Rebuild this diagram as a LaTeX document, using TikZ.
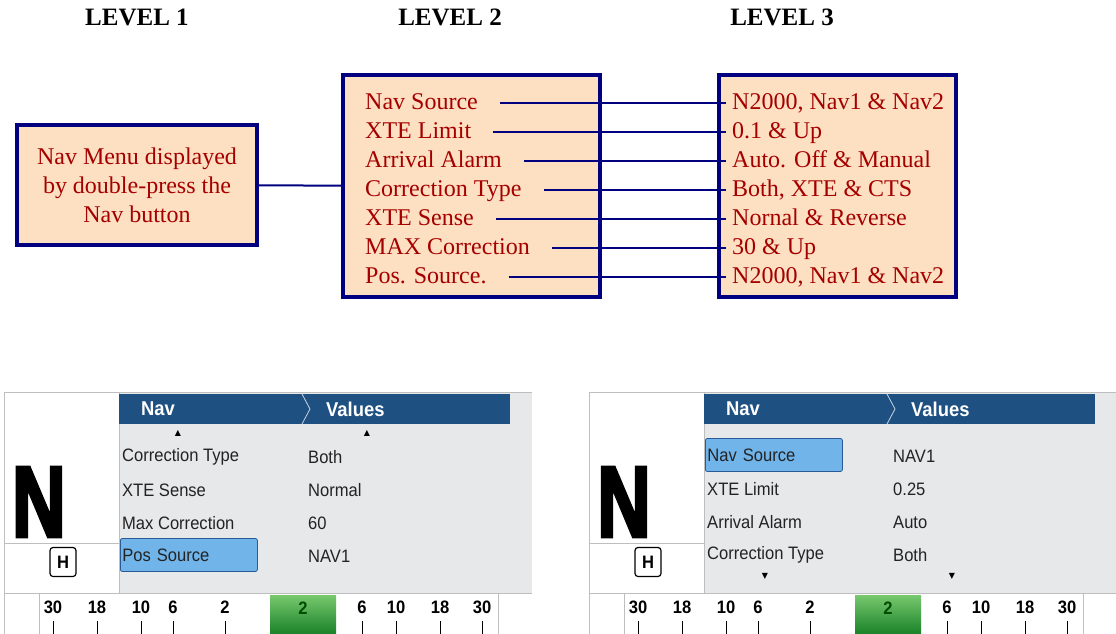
\documentclass[tikz,border=0pt]{standalone}
\usepackage{fontspec}
\setmainfont{Liberation Serif}
\newfontfamily\uifont[FakeStretch=0.92]{Liberation Sans}
\newfontfamily\bigfont[UprightFont={* Bold}, FakeBold=4]{Liberation Sans}
\newfontfamily\symfont{DejaVu Sans}
\usepackage{xcolor}

\definecolor{peach}{RGB}{253,223,193}
\definecolor{navyline}{RGB}{0,0,128}
\definecolor{menured}{RGB}{165,0,0}
\definecolor{hdrblue}{RGB}{31,80,130}
\definecolor{scrgray}{RGB}{231,232,234}
\definecolor{edgegray}{RGB}{190,190,190}
\definecolor{selblue}{RGB}{112,180,234}
\definecolor{seledge}{RGB}{40,90,150}
\definecolor{uitext}{RGB}{35,35,35}
\definecolor{gaugetop}{RGB}{120,200,110}
\definecolor{gaugebot}{RGB}{25,130,40}

\begin{document}
\begin{tikzpicture}[x=1pt, y=-1pt,
    font=\fontsize{24}{29}\selectfont,
    level/.style={font=\bfseries\fontsize{25}{29}\selectfont},
    menubox/.style={draw=navyline, line width=4pt, fill=peach, text=menured},
    item/.style={anchor=west, text=menured, inner sep=0pt, text height=16pt, text depth=4pt},
    link/.style={draw=navyline, line width=2pt},
    uirow/.style={anchor=west, inner sep=0pt, text=uitext, font=\uifont\fontsize{18}{20}\selectfont},
    hdr/.style={text=white, inner sep=0pt, font=\uifont\bfseries\fontsize{20}{22}\selectfont},
    selbox/.style={draw=seledge, fill=selblue, rounded corners=2pt, line width=0.8pt, anchor=west,
        inner xsep=2pt, text width=133pt, minimum height=33pt, text=uitext,
        font=\uifont\fontsize{18}{20}\selectfont},
    barnum/.style={inner sep=0pt, text=black, font=\uifont\bfseries\fontsize{18}{20}\selectfont},
    arrowmark/.style={inner sep=0pt, font=\symfont\fontsize{8}{8}\selectfont}]
    \useasboundingbox (0,0) rectangle (1116,634);

    % Level headings
    \node[level] (hone) at (137,17) {LEVEL 1};
    \node[level] (htwo) at (450,17) {LEVEL 2};
    \node[level] (hthree) at (782,17) {LEVEL 3};

    % Level 1
    \node[menubox, minimum width=240pt, minimum height=120pt, align=center] (lvone) at (137,185)
        {Nav Menu displayed\\by double-press the\\Nav button};

    % Level 2
    \node[menubox, minimum width=257pt, minimum height=222pt] (lvtwo) at (471.5,186) {};
    \node[item] (navsrc) at (365,103) {Nav Source};
    \node[item] (xtelim) at (365,132) {XTE Limit};
    \node[item] (arralarm) at (365,161) {Arrival Alarm};
    \node[item] (corrtype) at (365,190) {Correction Type};
    \node[item] (xtesense) at (365,219) {XTE Sense};
    \node[item] (maxcorr) at (365,248) {MAX Correction};
    \node[item] (possrc) at (365,277) {Pos. Source.};

    % Level 3
    \node[menubox, minimum width=237pt, minimum height=222pt] (lvthree) at (837.5,186) {};
    \node[item] (navsrcv) at (732,103) {N2000, Nav1 \& Nav2};
    \node[item] (xtelimv) at (732,132) {0.1 \& Up};
    \node[item] (arralarmv) at (732,161) {Auto. Off \& Manual};
    \node[item] (corrtypev) at (732,190) {Both, XTE \& CTS};
    \node[item] (xtesensev) at (732,219) {Nornal \& Reverse};
    \node[item] (maxcorrv) at (732,248) {30 \& Up};
    \node[item] (possrcv) at (732,277) {N2000, Nav1 \& Nav2};

    % Links
    \draw[link] (lvone) -- (lvtwo);
    \draw[link] ([xshift=22pt]navsrc.east) -- ([xshift=-6pt]navsrcv.west);
    \draw[link] ([xshift=22pt]xtelim.east) -- ([xshift=-6pt]xtelimv.west);
    \draw[link] ([xshift=22pt]arralarm.east) -- ([xshift=-6pt]arralarmv.west);
    \draw[link] ([xshift=22pt]corrtype.east) -- ([xshift=-6pt]corrtypev.west);
    \draw[link] ([xshift=22pt]xtesense.east) -- ([xshift=-6pt]xtesensev.west);
    \draw[link] ([xshift=22pt]maxcorr.east) -- ([xshift=-6pt]maxcorrv.west);
    \draw[link] ([xshift=22pt]possrc.east) -- ([xshift=-6pt]possrcv.west);

    % Display screens (common parts)
    \foreach \ox in {0,585} {
        \fill[scrgray] (\ox+4,392) rectangle (\ox+532,634);
        \fill[white] (\ox+4,392) rectangle (\ox+119,593);
        \draw[edgegray, line width=0.8pt] (\ox+4,634) -- (\ox+4,392) -- (\ox+532,392);
        \draw[edgegray, line width=0.8pt] (\ox+4,543) -- (\ox+119,543);
        \draw[edgegray, line width=0.8pt] (\ox+119,392) -- (\ox+119,593);
        % header
        \fill[hdrblue] (\ox+119,394) rectangle (\ox+510,424);
        \draw[white!75!hdrblue, line width=0.8pt] (\ox+302,394) -- (\ox+310,409) -- (\ox+302,424);
        \node[hdr] (nav\ox) at (\ox+158,409) {Nav};
        \node[hdr, anchor=west] (val\ox) at (\ox+326,409) {Values};
        % heading letter
        \node[inner sep=0pt, font=\bigfont\fontsize{100}{100}\selectfont] (big\ox) at (\ox+39,502)
            {\scalebox{0.74}[1]{N}};
        \node[draw, rounded corners=3pt, line width=1.2pt, fill=white, minimum width=26pt, minimum height=29pt,
            inner sep=0pt, font=\uifont\bfseries\fontsize{18}{20}\selectfont] (hbox\ox) at (\ox+63,562) {H};
        % scale bar
        \fill[white] (\ox+4,593) rectangle (\ox+532,634);
        \draw[edgegray, line width=0.8pt] (\ox+4,593) -- (\ox+532,593);
        \draw[edgegray, line width=0.8pt] (\ox+39,593) -- (\ox+39,634);
        \draw[edgegray, line width=0.8pt] (\ox+498,593) -- (\ox+498,634);
        \draw[edgegray, line width=0.8pt] (\ox+4,593) -- (\ox+4,634);
        \shade[top color=gaugetop, bottom color=gaugebot] (\ox+270,595) rectangle (\ox+336,634);
        \node[barnum, text=green!30!black] (mid\ox) at (\ox+303,608) {2};
        \foreach \x/\t in {53/30, 97/18, 141/10, 173/6, 225/2, 362/6, 396/10, 440/18, 482/30} {
            \node[barnum] (bn\ox-\x) at (\ox+\x,607) {\t};
            \draw[line width=1pt] (\ox+\x,621) -- (\ox+\x,634);
        }
    }

    % Screen 1
    \node[arrowmark] (upa) at (178,433) {▲};
    \node[arrowmark] (upb) at (367,433) {▲};
    \node[uirow] (sa) at (122,457) {Correction Type};
    \node[uirow] (sb) at (122,490) {XTE Sense};
    \node[uirow] (sc) at (122,523) {Max Correction};
    \node[selbox] (sd) at (120,555) {Pos Source};
    \node[uirow] (sav) at (308,457) {Both};
    \node[uirow] (sbv) at (308,490) {Normal};
    \node[uirow] (scv) at (308,523) {60};
    \node[uirow] (sdv) at (308,556) {NAV1};

    % Screen 2
    \node[selbox] (ta) at (705,455) {Nav Source};
    \node[uirow] (tb) at (707,489) {XTE Limit};
    \node[uirow] (tc) at (707,522) {Arrival Alarm};
    \node[uirow] (td) at (707,555) {Correction Type};
    \node[uirow] (tav) at (893,456) {NAV1};
    \node[uirow] (tbv) at (893,489) {0.25};
    \node[uirow] (tcv) at (893,522) {Auto};
    \node[uirow] (tdv) at (893,555) {Both};
    \node[arrowmark] (dna) at (765,576) {▼};
    \node[arrowmark] (dnb) at (952,576) {▼};
\end{tikzpicture}
\end{document}
